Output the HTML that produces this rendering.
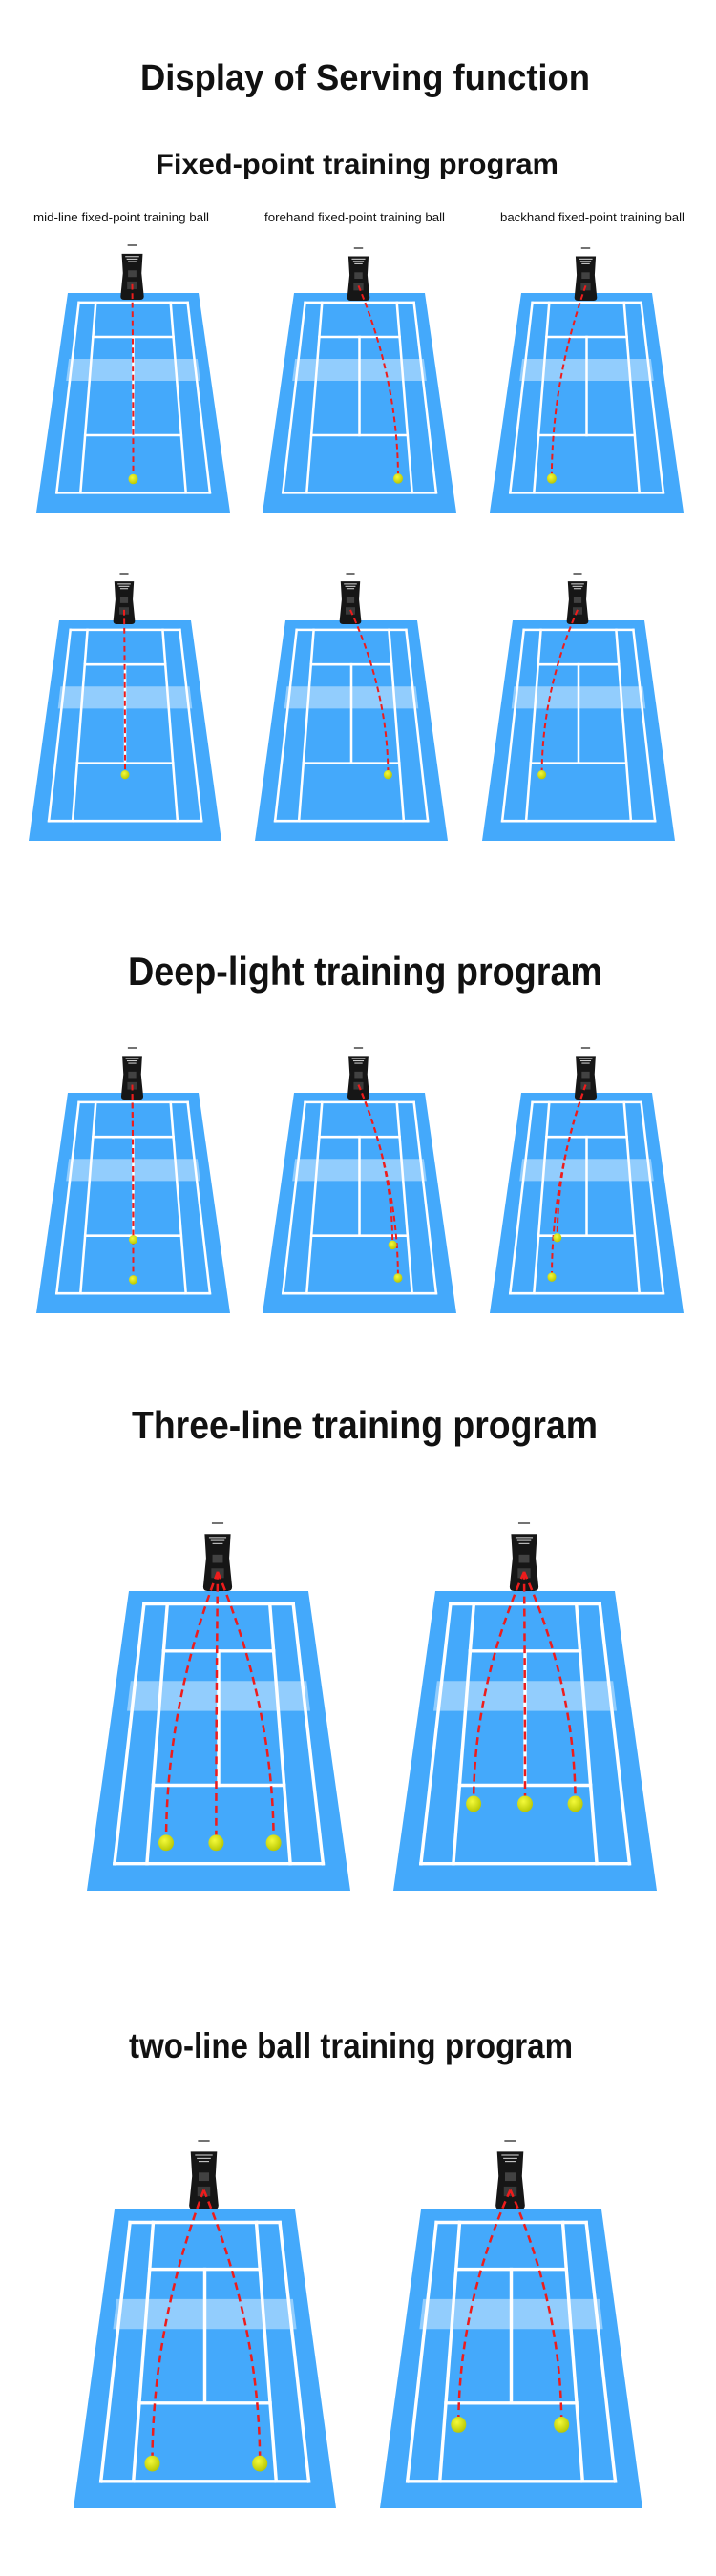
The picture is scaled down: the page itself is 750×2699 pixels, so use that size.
<!DOCTYPE html>
<html><head><meta charset="utf-8"><style>
html,body{margin:0;padding:0;background:#fff;}
svg{display:block;}
.t{font-family:"Liberation Sans",sans-serif;font-weight:bold;fill:#111;}
.l{font-family:"Liberation Sans",sans-serif;fill:#111;}
</style></head><body>
<svg id="s" xmlns="http://www.w3.org/2000/svg" width="750" height="2699" viewBox="0 0 750 2699">
<defs>
<radialGradient id="bg" cx="0.4" cy="0.35" r="0.7"><stop offset="0" stop-color="#f4fa3a"/><stop offset="1" stop-color="#b5c400"/></radialGradient>
</defs>
<rect width="750" height="2699" fill="#fff"/>
<text class="t" x="147" y="94" font-size="38" textLength="471" lengthAdjust="spacingAndGlyphs">Display of Serving function</text>
<text class="t" x="163" y="182" font-size="30" textLength="422" lengthAdjust="spacingAndGlyphs">Fixed-point training program</text>
<text class="l" x="35" y="232" font-size="13" textLength="184" lengthAdjust="spacingAndGlyphs">mid-line fixed-point training ball</text>
<text class="l" x="277" y="232" font-size="13" textLength="189" lengthAdjust="spacingAndGlyphs">forehand fixed-point training ball</text>
<text class="l" x="524" y="232" font-size="13" textLength="193" lengthAdjust="spacingAndGlyphs">backhand fixed-point training ball</text>
<text class="t" x="134" y="1032" font-size="42" textLength="497" lengthAdjust="spacingAndGlyphs">Deep-light training program</text>
<text class="t" x="138" y="1507" font-size="41" textLength="488" lengthAdjust="spacingAndGlyphs">Three-line training program</text>
<text class="t" x="135" y="2156" font-size="37" textLength="465" lengthAdjust="spacingAndGlyphs">two-line ball training program</text>
<g id="g"></g>
</svg>
<script>
var NS="http://www.w3.org/2000/svg",G=document.getElementById("g"),out="";
function court(xL,xR,T,B,ins,balls,mt,mh,bd){
  var H=B-T;
  function P(u,v){var L=xL+ins*(1-v),R=xR-ins*(1-v);return [L+u*(R-L),T+v*H];}
  function pt(p){return p[0].toFixed(1)+","+p[1].toFixed(1);}
  var lw=Math.max(2.2,H*0.011);
  out+='<polygon points="'+pt(P(0,0))+' '+pt(P(1,0))+' '+pt(P(1,1))+' '+pt(P(0,1))+'" fill="#44a9fb"/>';
  function ln(a,b){out+='<line x1="'+a[0].toFixed(1)+'" y1="'+a[1].toFixed(1)+'" x2="'+b[0].toFixed(1)+'" y2="'+b[1].toFixed(1)+'" stroke="#fff" stroke-width="'+lw.toFixed(2)+'" stroke-linecap="square"/>';}
  var d0=.093,d1=.908,s0=.22,s1=.78,vt=.043,vb=.91,sv1=.2,sv2=.648;
  ln(P(d0,vt),P(d1,vt));ln(P(d0,vb),P(d1,vb));
  ln(P(d0,vt),P(d0,vb));ln(P(d1,vt),P(d1,vb));
  ln(P(s0,vt),P(s0,vb));ln(P(s1,vt),P(s1,vb));
  ln(P(s0,sv1),P(s1,sv1));ln(P(s0,sv2),P(s1,sv2));
  ln(P(.5,sv1),P(.5,sv2));
  out+='<polygon points="'+pt(P(.07,.3))+' '+pt(P(.93,.3))+' '+pt(P(.93,.4))+' '+pt(P(.07,.4))+'" fill="#fff" opacity="0.42"/>';
  // machine
  var cx=(xL+xR)/2-1,mw=mh*0.42;
  var sx=cx,sy=mt+0.72*mh;
  out+='<rect x="'+(cx-mw*.28)+'" y="'+mt+'" width="'+(mw*.56)+'" height="'+(mh*.2)+'" fill="#fff"/>';
  out+='<line x1="'+(cx-mw*.2)+'" y1="'+(mt+1)+'" x2="'+(cx+mw*.2)+'" y2="'+(mt+1)+'" stroke="#444" stroke-width="1.5"/>';
  var bt=mt+mh*.17,bb=mt+mh;
  out+='<path d="M'+(cx-mw*.45)+','+bt+' L'+(cx+mw*.45)+','+bt+' L'+(cx+mw*.4)+','+(bt+mh*.35)+' L'+(cx+mw*.5)+','+(bb-mh*.06)+' Q'+(cx+mw*.5)+','+bb+' '+(cx+mw*.35)+','+bb+' L'+(cx-mw*.35)+','+bb+' Q'+(cx-mw*.5)+','+bb+' '+(cx-mw*.5)+','+(bb-mh*.06)+' L'+(cx-mw*.4)+','+(bt+mh*.35)+' Z" fill="#161616"/>';
  for(var i=0;i<3;i++){var yy=bt+mh*(.05+.045*i),ww=mw*(.3-.06*i);out+='<line x1="'+(cx-ww)+'" y1="'+yy+'" x2="'+(cx+ww)+'" y2="'+yy+'" stroke="#ddd" stroke-width="1"/>';}
  out+='<rect x="'+(cx-mw*.18)+'" y="'+(bt+mh*.3)+'" width="'+(mw*.36)+'" height="'+(mh*.12)+'" fill="#555" opacity=".7"/>';
  out+='<rect x="'+(cx-mw*.22)+'" y="'+(bt+mh*.5)+'" width="'+(mw*.44)+'" height="'+(mh*.14)+'" fill="#3a3a3a"/>';
  // trajectories & balls
  var dw=Math.max(2,H*0.008);
  balls.forEach(function(b){
    var e=P(b[0],b[1]),bx=e[0],by=e[1];
    var cy=sy+0.5*(by-sy);
    out+='<path d="M'+sx+','+sy+' Q'+bx.toFixed(1)+','+cy.toFixed(1)+' '+bx.toFixed(1)+','+by.toFixed(1)+'" fill="none" stroke="#ee1c1c" stroke-width="'+dw.toFixed(2)+'" stroke-dasharray="'+(H*.025).toFixed(1)+' '+(H*.016).toFixed(1)+'"/>';
  });
  balls.forEach(function(b){
    var e=P(b[0],b[1]);
    out+='<ellipse cx="'+e[0].toFixed(1)+'" cy="'+e[1].toFixed(1)+'" rx="'+(bd/2)+'" ry="'+(bd/2*1.05)+'" fill="url(#bg)"/>';
  });
}
// row1
court(38,241,307,537,33,[[.5,.848]],256,58,10);
court(275,478,307,537,33,[[.71,.845]],259,56,10);
court(513,716,307,537,33,[[.31,.845]],259,56,10);
// row2
court(30,232,650,881,32,[[.5,.70]],600,54,9);
court(267,469,650,881,32,[[.71,.70]],600,54,9);
court(505,707,650,881,32,[[.29,.70]],600,54,9);
// deep
court(38,241,1145,1376,33,[[.5,.666],[.5,.848]],1097,55,9);
court(275,478,1145,1376,33,[[.69,.69],[.71,.84]],1097,55,9);
court(513,716,1145,1376,33,[[.33,.657],[.31,.836]],1097,55,9);
// three
court(91,367,1667,1981,44,[[.29,.84],[.49,.84],[.72,.84]],1595,72,16);
court(412,688,1667,1981,44,[[.285,.71],[.5,.71],[.71,.71]],1595,72,16);
// two
court(77,352,2315,2628,43,[[.29,.85],[.72,.85]],2242,73,16);
court(398,673,2315,2628,43,[[.28,.72],[.71,.72]],2242,73,16);
G.innerHTML=out;
</script>
</body></html>
